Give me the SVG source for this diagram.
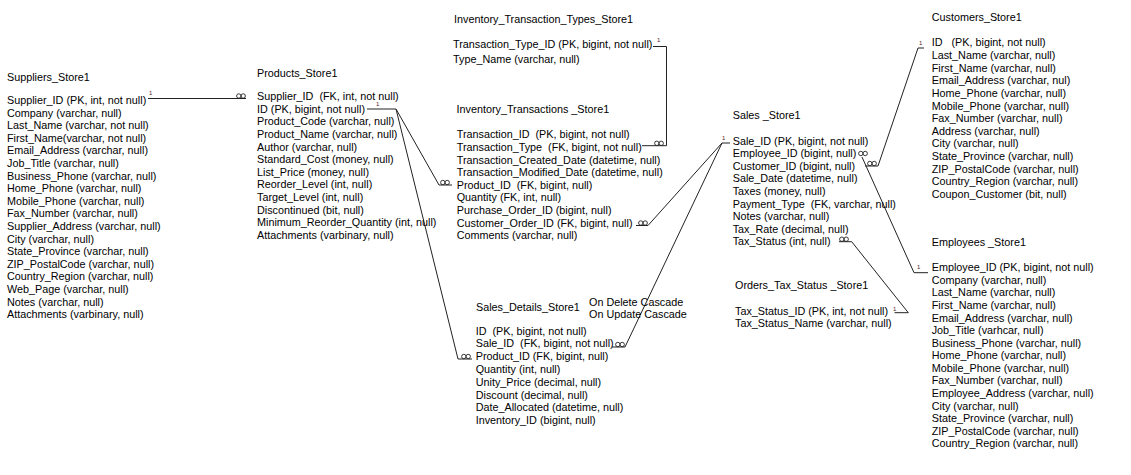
<svg xmlns="http://www.w3.org/2000/svg" width="1131" height="475" viewBox="0 0 1131 475">
<style>
text{font-family:"Liberation Sans",Arial,sans-serif;font-size:10.8px;fill:#000}
.one{font-size:6px;fill:#522}
.ln{fill:none;stroke:#222;stroke-width:1}
.inf{fill:none;stroke:#222;stroke-width:0.9}
</style>
<defs>
<g id="many"><circle class="inf" cx="-2.2" cy="0" r="2.2"/><circle class="inf" cx="2.2" cy="0" r="2.2"/></g>
</defs>
<rect width="1131" height="475" fill="#fff"/>
<g id="connectors">
<polyline class="ln" points="148,98.5 246,98.5"/>
<polyline class="ln" points="367,109 396,109"/>
<polyline class="ln" points="396,109 439,185 452,185"/>
<polyline class="ln" points="396,109 458,359 472,359"/>
<polyline class="ln" points="653,46.5 666.5,46.5 666.5,145.7 642,145.7"/>
<polyline class="ln" points="636,225.5 648,225.5 722,143 730,143"/>
<polyline class="ln" points="612,347 625,347 722,143"/>
<polyline class="ln" points="865,166 878,166 918,48 924,48"/>
<polyline class="ln" points="862,157 914,272.7 928,272.7"/>
<polyline class="ln" points="839,241.7 851.7,241.7 908.3,312.7 894.5,312.7"/>
<text class="one" x="149" y="95">1</text>
<use href="#many" x="241" y="96"/>
<text class="one" x="376" y="106">1</text>
<use href="#many" x="445" y="182.5"/>
<use href="#many" x="466" y="356.5"/>
<text class="one" x="657" y="42">1</text>
<use href="#many" x="659" y="143.3"/>
<use href="#many" x="643" y="223"/>
<use href="#many" x="620" y="344.5"/>
<text class="one" x="722" y="140">1</text>
<use href="#many" x="863" y="153.5"/>
<use href="#many" x="872" y="163.5"/>
<text class="one" x="919" y="45">1</text>
<text class="one" x="917" y="269">1</text>
<use href="#many" x="844" y="239.2"/>
<text class="one" x="893" y="311">1</text>
</g>
<g id="suppliers">
<text x="7" y="81">Suppliers_Store1</text>
<text x="7" y="104">
<tspan x="7">Supplier_ID (PK, int, not null)</tspan>
<tspan x="7" dy="12.6">Company (varchar, null)</tspan>
<tspan x="7" dy="12.6">Last_Name (varchar, not null)</tspan>
<tspan x="7" dy="12.6">First_Name(varchar, not null)</tspan>
<tspan x="7" dy="12.6">Email_Address (varchar, null)</tspan>
<tspan x="7" dy="12.6">Job_Title (varchar, null)</tspan>
<tspan x="7" dy="12.6">Business_Phone (varchar, null)</tspan>
<tspan x="7" dy="12.6">Home_Phone (varchar, null)</tspan>
<tspan x="7" dy="12.6">Mobile_Phone (varchar, null)</tspan>
<tspan x="7" dy="12.6">Fax_Number (varchar, null)</tspan>
<tspan x="7" dy="12.6">Supplier_Address (varchar, null)</tspan>
<tspan x="7" dy="12.6">City (varchar, null)</tspan>
<tspan x="7" dy="12.6">State_Province (varchar, null)</tspan>
<tspan x="7" dy="12.6">ZIP_PostalCode (varchar, null)</tspan>
<tspan x="7" dy="12.6">Country_Region (varchar, null)</tspan>
<tspan x="7" dy="12.6">Web_Page (varchar, null)</tspan>
<tspan x="7" dy="12.6">Notes (varchar, null)</tspan>
<tspan x="7" dy="12.6">Attachments (varbinary, null)</tspan>
</text>
</g>
<g id="products">
<text x="257" y="77">Products_Store1</text>
<text x="257" y="100">
<tspan x="257" xml:space="preserve">Supplier_ID  (FK, int, not null)</tspan>
<tspan x="257" dy="12.64">ID (PK, bigint, not null)</tspan>
<tspan x="257" dy="12.64">Product_Code (varchar, null)</tspan>
<tspan x="257" dy="12.64">Product_Name (varchar, null)</tspan>
<tspan x="257" dy="12.64">Author (varchar, null)</tspan>
<tspan x="257" dy="12.64">Standard_Cost (money, null)</tspan>
<tspan x="257" dy="12.64">List_Price (money, null)</tspan>
<tspan x="257" dy="12.64">Reorder_Level (int, null)</tspan>
<tspan x="257" dy="12.64">Target_Level (int, null)</tspan>
<tspan x="257" dy="12.64">Discontinued (bit, null)</tspan>
<tspan x="257" dy="12.64">Minimum_Reorder_Quantity (int, null)</tspan>
<tspan x="257" dy="12.64">Attachments (varbinary, null)</tspan>
</text>
</g>
<g id="inventory_transaction_types">
<text x="454" y="23">Inventory_Transaction_Types_Store1</text>
<text x="453" y="48">Transaction_Type_ID (PK, bigint, not null)</text>
<text x="453" y="63">Type_Name (varchar, null)</text>
</g>
<g id="inventory_transactions">
<text x="456.5" y="112.5">Inventory_Transactions _Store1</text>
<text x="456.7" y="138.3">
<tspan x="456.7" xml:space="preserve">Transaction_ID  (PK, bigint, not null)</tspan>
<tspan x="456.7" dy="12.6" xml:space="preserve">Transaction_Type  (FK, bigint, not null)</tspan>
<tspan x="456.7" dy="12.6">Transaction_Created_Date (datetime, null)</tspan>
<tspan x="456.7" dy="12.6">Transaction_Modified_Date (datetime, null)</tspan>
<tspan x="456.7" dy="12.6" xml:space="preserve">Product_ID  (FK, bigint, null)</tspan>
<tspan x="456.7" dy="12.6">Quantity (FK, int, null)</tspan>
<tspan x="456.7" dy="12.6">Purchase_Order_ID (bigint, null)</tspan>
<tspan x="456.7" dy="12.6">Customer_Order_ID (FK, bigint, null)</tspan>
<tspan x="456.7" dy="12.6">Comments (varchar, null)</tspan>
</text>
</g>
<g id="sales_details">
<text x="476" y="310.5">Sales_Details_Store1</text>
<text x="589" y="305.5">On Delete Cascade</text>
<text x="589" y="317.5">On Update Cascade</text>
<text x="475.7" y="334.7">
<tspan x="475.7" xml:space="preserve">ID  (PK, bigint, not null)</tspan>
<tspan x="475.7" dy="12.76" xml:space="preserve">Sale_ID  (FK, bigint, not null)</tspan>
<tspan x="475.7" dy="12.76">Product_ID (FK, bigint, null)</tspan>
<tspan x="475.7" dy="12.76">Quantity (int, null)</tspan>
<tspan x="475.7" dy="12.76">Unity_Price (decimal, null)</tspan>
<tspan x="475.7" dy="12.76">Discount (decimal, null)</tspan>
<tspan x="475.7" dy="12.76">Date_Allocated (datetime, null)</tspan>
<tspan x="475.7" dy="12.76">Inventory_ID (bigint, null)</tspan>
</text>
</g>
<g id="sales">
<text x="732.7" y="119">Sales _Store1</text>
<text x="732.7" y="144.7">
<tspan x="732.7">Sale_ID (PK, bigint, not null)</tspan>
<tspan x="732.7" dy="12.58">Employee_ID (bigint, null)</tspan>
<tspan x="732.7" dy="12.58">Customer_ID (bigint, null)</tspan>
<tspan x="732.7" dy="12.58">Sale_Date (datetime, null)</tspan>
<tspan x="732.7" dy="12.58">Taxes (money, null)</tspan>
<tspan x="732.7" dy="12.58" xml:space="preserve">Payment_Type  (FK, varchar, null)</tspan>
<tspan x="732.7" dy="12.58">Notes (varchar, null)</tspan>
<tspan x="732.7" dy="12.58">Tax_Rate (decimal, null)</tspan>
<tspan x="732.7" dy="12.58">Tax_Status (int, null)</tspan>
</text>
</g>
<g id="orders_tax_status">
<text x="735" y="289">Orders_Tax_Status _Store1</text>
<text x="735" y="314.7">Tax_Status_ID (PK, int, not null)</text>
<text x="735" y="326.7">Tax_Status_Name (varchar, null)</text>
</g>
<g id="customers">
<text x="931.7" y="21.3">Customers_Store1</text>
<text x="931.7" y="46.3">
<tspan x="931.7" xml:space="preserve">ID   (PK, bigint, not null)</tspan>
<tspan x="931.7" dy="12.64">Last_Name (varchar, null)</tspan>
<tspan x="931.7" dy="12.64">First_Name (varchar, null)</tspan>
<tspan x="931.7" dy="12.64">Email_Address (varchar, nul)</tspan>
<tspan x="931.7" dy="12.64">Home_Phone (varchar, null)</tspan>
<tspan x="931.7" dy="12.64">Mobile_Phone (varchar, null)</tspan>
<tspan x="931.7" dy="12.64">Fax_Number (varchar, null)</tspan>
<tspan x="931.7" dy="12.64">Address (varchar, null)</tspan>
<tspan x="931.7" dy="12.64">City (varchar, null)</tspan>
<tspan x="931.7" dy="12.64">State_Province (varchar, null)</tspan>
<tspan x="931.7" dy="12.64">ZIP_PostalCode (varchar, null)</tspan>
<tspan x="931.7" dy="12.64">Country_Region (varchar, null)</tspan>
<tspan x="931.7" dy="12.64">Coupon_Customer (bit, null)</tspan>
</text>
</g>
<g id="employees">
<text x="931.7" y="246.3">Employees _Store1</text>
<text x="931.7" y="271.3">
<tspan x="931.7">Employee_ID (PK, bigint, not null)</tspan>
<tspan x="931.7" dy="12.57">Company (varchar, null)</tspan>
<tspan x="931.7" dy="12.57">Last_Name (varchar, null)</tspan>
<tspan x="931.7" dy="12.57">First_Name (varchar, null)</tspan>
<tspan x="931.7" dy="12.57">Email_Address (varchar, null)</tspan>
<tspan x="931.7" dy="12.57">Job_Title (varhcar, null)</tspan>
<tspan x="931.7" dy="12.57">Business_Phone (varchar, null)</tspan>
<tspan x="931.7" dy="12.57">Home_Phone (varchar, null)</tspan>
<tspan x="931.7" dy="12.57">Mobile_Phone (varchar, null)</tspan>
<tspan x="931.7" dy="12.57">Fax_Number (varchar, null)</tspan>
<tspan x="931.7" dy="12.57">Employee_Address (varchar, null)</tspan>
<tspan x="931.7" dy="12.57">City (varchar, null)</tspan>
<tspan x="931.7" dy="12.57">State_Province (varchar, null)</tspan>
<tspan x="931.7" dy="12.57">ZIP_PostalCode (varchar, null)</tspan>
<tspan x="931.7" dy="12.57">Country_Region (varchar, null)</tspan>
</text>
</g>
</svg>
